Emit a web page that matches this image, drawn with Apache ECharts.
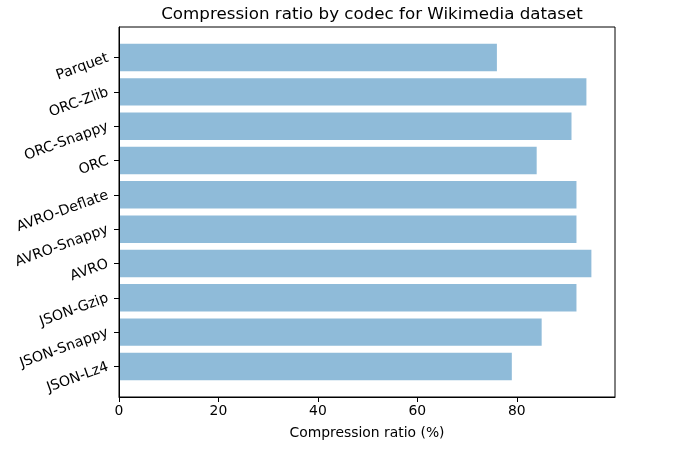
<!DOCTYPE html>
<html>
<head>
<meta charset="utf-8">
<script src="https://cdn.jsdelivr.net/npm/echarts@6/dist/echarts.min.js"></script>
<style>
html,body{margin:0;padding:0;background:#fff;}
#chart{width:678px;height:452px;}
</style>
</head>
<body>
<div id="chart"></div>
<script>
const categories = ['JSON-Lz4','JSON-Snappy','JSON-Gzip','AVRO','AVRO-Snappy','AVRO-Deflate','ORC','ORC-Snappy','ORC-Zlib','Parquet'];
const values = [79, 85, 92, 95, 92, 92, 84, 91, 94, 76];
const xTicks = [0, 20, 40, 60, 80];

const FONT = 'DejaVu Sans';
const xMax = 95 * 1.05;
// matplotlib y-limits: -0.89 .. 9.89 -> inset category grid
const plotTop = 27, plotH = 370;
const unit = plotH / 10.78;
const inset = unit * 0.39;

const chart = echarts.init(document.getElementById('chart'), null, {renderer: 'canvas'});
chart.setOption({
  animation: false,
  backgroundColor: '#fff',
  title: {
    text: 'Compression ratio by codec for Wikimedia dataset',
    left: 367, top: 1, textAlign: 'center',
    textStyle: {fontFamily: FONT, fontSize: 16.7, fontWeight: 'normal', color: '#000'}
  },
  grid: [
    {left: 119, top: plotTop, width: 496, height: plotH, show: true, borderColor: '#000', borderWidth: 1, backgroundColor: 'transparent'},
    {left: 119, top: plotTop + inset, width: 496, height: plotH - 2 * inset}
  ],
  xAxis: [
    {
      gridIndex: 0, type: 'value', min: 0, max: xMax, interval: 20, z: 10,
      axisLine: {show: true, lineStyle: {color: '#000', width: 1}},
      axisTick: {show: true, length: 5, lineStyle: {color: '#000', width: 1}},
      splitLine: {show: false},
      axisLabel: {
        fontFamily: FONT, fontSize: 13.9, color: '#000', margin: 7,
        showMaxLabel: false,
        formatter: v => xTicks.includes(v) ? String(v) : ''
      },
      name: 'Compression ratio (%)', nameLocation: 'middle', nameGap: 29,
      nameTextStyle: {fontFamily: FONT, fontSize: 13.9, color: '#000'}
    },
    {gridIndex: 1, type: 'value', min: 0, max: xMax, show: false}
  ],
  yAxis: [
    {
      gridIndex: 0, type: 'value', min: 0, max: 1, z: 10,
      axisLine: {show: true, lineStyle: {color: '#000', width: 1}},
      axisTick: {show: false}, axisLabel: {show: false}, splitLine: {show: false}
    },
    {
      gridIndex: 1, type: 'category', data: categories,
      axisLine: {show: false},
      axisTick: {show: true, alignWithLabel: true, length: 5, lineStyle: {color: '#000', width: 1}},
      axisLabel: {fontFamily: FONT, fontSize: 14.2, color: '#000', rotate: 20, margin: 11},
      splitLine: {show: false}
    }
  ],
  series: [{
    type: 'bar', xAxisIndex: 1, yAxisIndex: 1,
    data: values, barWidth: '80%',
    itemStyle: {color: '#1f77b4', opacity: 0.5}
  }]
});
</script>
</body>
</html>
